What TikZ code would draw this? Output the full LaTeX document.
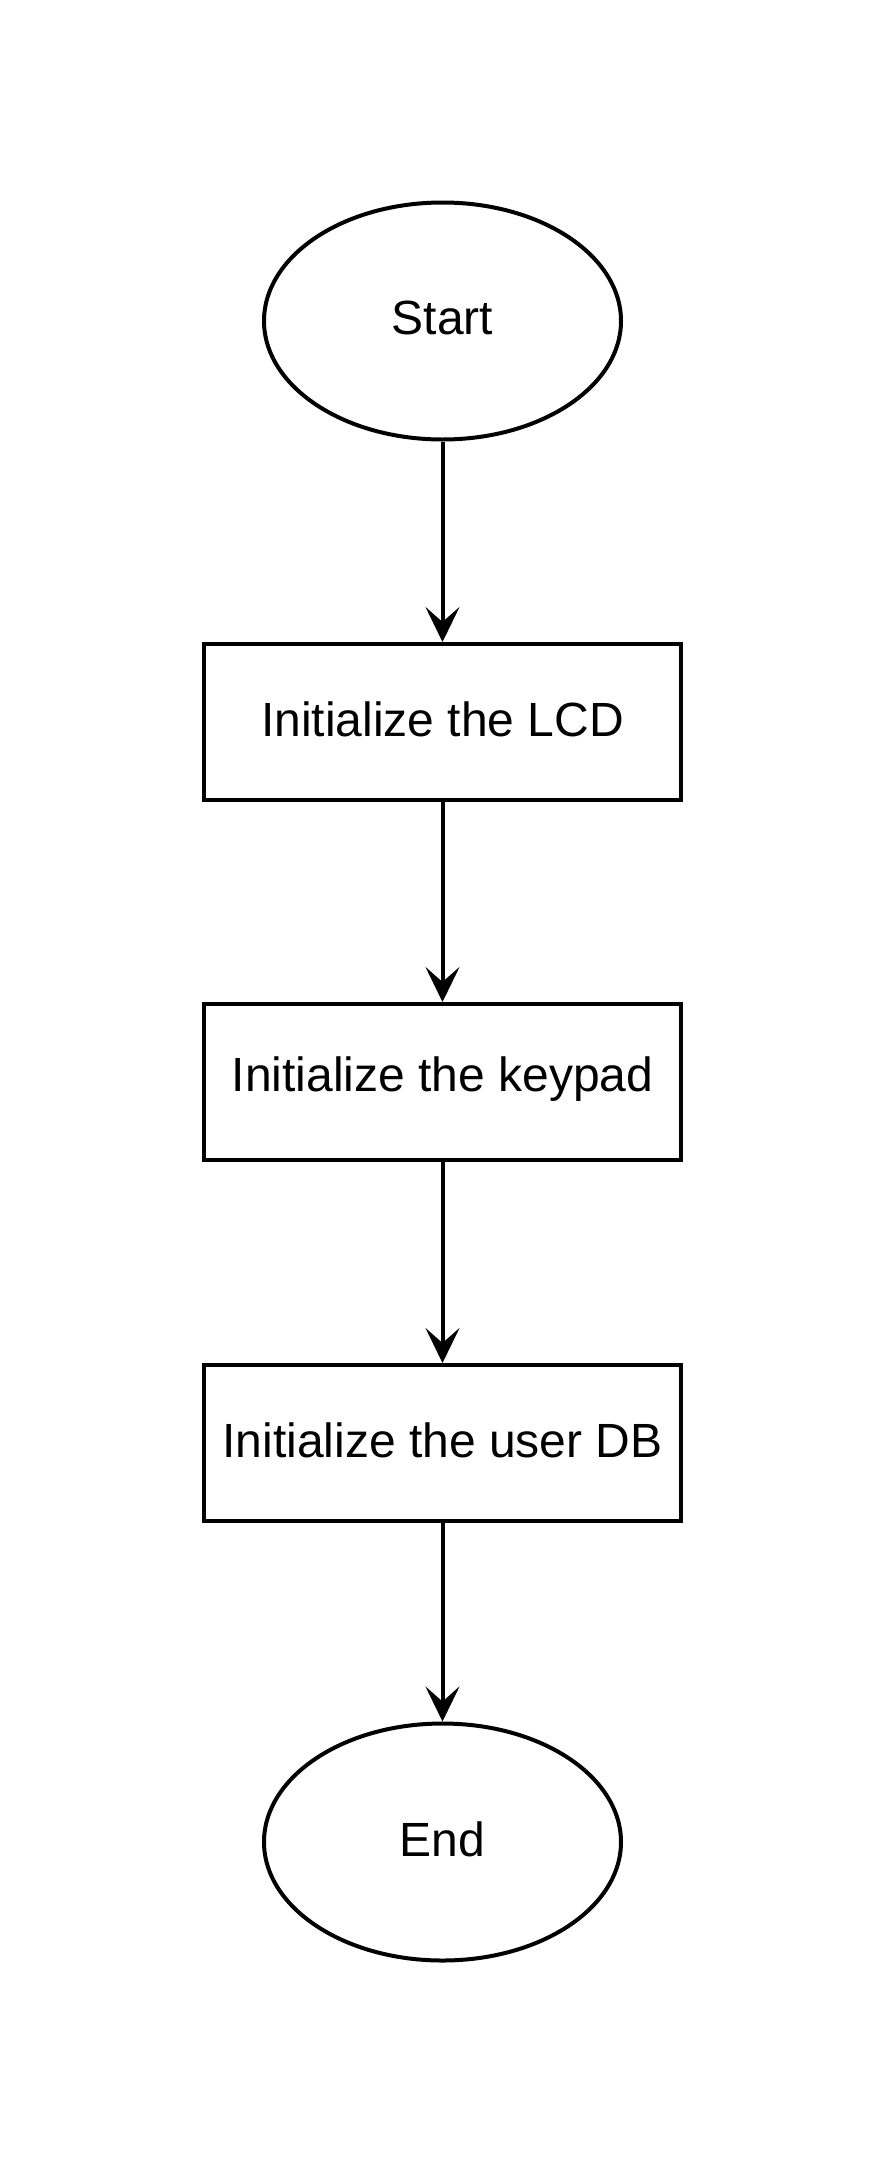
\documentclass[tikz,border=0pt]{standalone}
\usepackage{fontspec}
\setmainfont{Liberation Sans}
\usetikzlibrary{shapes.geometric,arrows.meta}
\begin{document}
\begin{tikzpicture}[x=1pt,y=-1pt,
  every node/.style={font=\fontsize{48}{58}\selectfont, line width=4pt, inner sep=0pt},
  term/.style={draw, ellipse, minimum width=357pt, minimum height=237pt},
  proc/.style={draw, rectangle, minimum width=477pt, minimum height=156pt},
  txt/.style={yshift=3pt},
  arr/.style={line width=4pt, -{Stealth[length=35pt,width=34pt,inset=15pt]}}]
\useasboundingbox (0,0) rectangle (888,2168);
\node[term] (start) at (442.5,321) {};
\node[proc] (lcd) at (442.5,722) {};
\node[proc] (key) at (442.5,1082) {};
\node[proc] (db) at (442.5,1443) {};
\node[term] (end) at (442.5,1842) {};
\node[txt] (startt) at (start.center) {Start};
\node[txt] (lcdt) at (lcd.center) {Initialize the LCD};
\node[txt] (keyt) at (key.center) {Initialize the keypad};
\node[txt] (dbt) at (db.center) {Initialize the user DB};
\node[txt] (endt) at (end.center) {End};
\draw[arr] (start) -- (lcd);
\draw[arr] (lcd) -- (key);
\draw[arr] (key) -- (db);
\draw[arr] (db) -- (end);
\end{tikzpicture}
\end{document}
